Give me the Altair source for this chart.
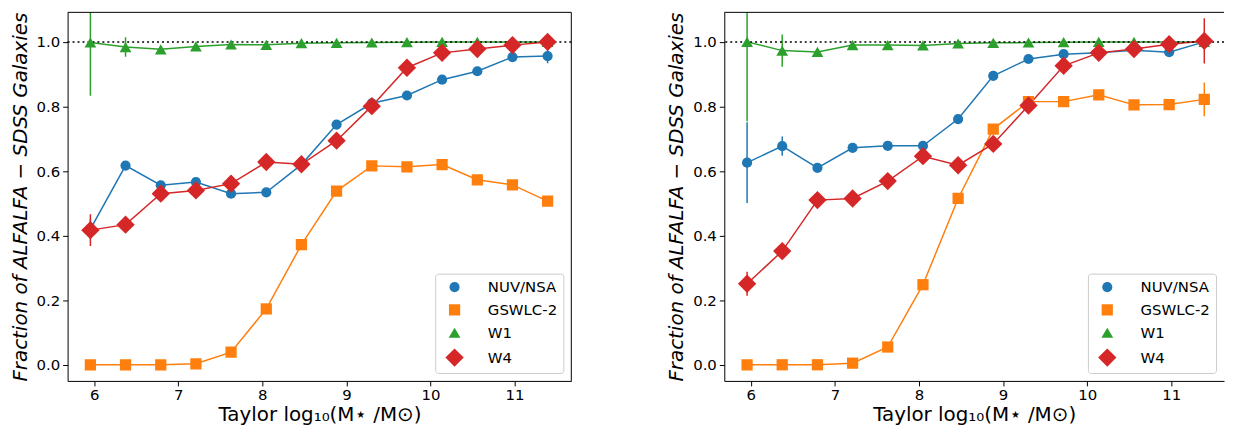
import altair as alt
import pandas as pd

# ---- data ----
xbins = [5.955, 6.373, 6.792, 7.210, 7.628, 8.047, 8.465, 8.883, 9.302, 9.720,
         10.138, 10.557, 10.975, 11.393]
series_names = ["NUV/NSA", "GSWLC-2", "W1", "W4"]

# left panel
L_nuv = [0.420, 0.617, 0.556, 0.566, 0.530, 0.534, 0.620, 0.744, 0.810, 0.834, 0.883, 0.909, 0.953, 0.956]
L_nuv_err = [0.03, 0, 0, 0, 0, 0, 0, 0, 0, 0, 0, 0, 0, 0.022]
L_gsw = [0.0, 0.0, 0.0, 0.003, 0.039, 0.173, 0.372, 0.538, 0.616, 0.613, 0.620, 0.573, 0.557, 0.507]
L_gsw_err = [0] * 14
L_w1 = [0.998, 0.984, 0.977, 0.986, 0.992, 0.991, 0.996, 0.997, 0.998, 0.999, 1.0, 1.0, 1.0, 1.0]
L_w1_err = [0.165, 0.03, 0, 0, 0, 0, 0, 0, 0, 0, 0, 0, 0, 0]
L_w4 = [0.417, 0.434, 0.530, 0.540, 0.561, 0.628, 0.621, 0.694, 0.801, 0.920, 0.966, 0.978, 0.990, 1.000]
L_w4_err = [0.049, 0, 0, 0, 0, 0, 0, 0, 0, 0, 0, 0, 0, 0]

# right panel
R_nuv = [0.626, 0.677, 0.610, 0.672, 0.678, 0.678, 0.761, 0.895, 0.947, 0.962, 0.966, 0.974, 0.968, 1.000]
R_nuv_err = [0.125, 0.03, 0, 0, 0, 0, 0, 0, 0, 0, 0, 0, 0, 0]
R_gsw = [0.0, 0.0, 0.0, 0.005, 0.055, 0.248, 0.515, 0.730, 0.815, 0.815, 0.836, 0.805, 0.806, 0.822]
R_gsw_err = [0, 0, 0, 0, 0, 0, 0, 0, 0, 0, 0, 0, 0, 0.052]
R_w1 = [1.0, 0.973, 0.969, 0.990, 0.990, 0.989, 0.995, 0.997, 0.998, 0.999, 1.0, 1.0, 1.0, 1.0]
R_w1_err = [0.246, 0.05, 0, 0, 0, 0, 0, 0, 0, 0, 0, 0, 0, 0]
R_w4 = [0.251, 0.352, 0.510, 0.515, 0.569, 0.646, 0.618, 0.684, 0.803, 0.926, 0.966, 0.978, 0.993, 1.003]
R_w4_err = [0.037, 0, 0, 0, 0, 0, 0, 0, 0, 0, 0, 0, 0, 0.07]

x_ticks = [6, 7, 8, 9, 10, 11]
y_ticks = [0.0, 0.2, 0.4, 0.6, 0.8, 1.0]
reference_level = [1.0]

# ---- styling ----
colors = ["#1f77b4", "#ff7f0e", "#2ca02c", "#d62728"]
shapes = ["circle", "square", "triangle-up", "diamond"]
marker_area = {"NUV/NSA": 105, "GSWLC-2": 128, "W1": 140, "W4": 340}

FONT = "DejaVu Sans"
H = 371
W_LEFT = 507
W_RIGHT = 503
Y_DOM = [-0.05, 1.0915]
X_PX = 84.63  # pixels per unit

legend_size_expr = ("datum.value == 'W4' ? 340 : datum.value == 'W1' ? 140 : "
                    "datum.value == 'GSWLC-2' ? 128 : 105")


def make_df(vals, errs):
    rows = []
    for name, v, e in zip(series_names, vals, errs):
        for x, y, err in zip(xbins, v, e):
            rows.append({"series": name, "x": x, "y": y, "err": err,
                         "lo": y - err, "hi": y + err,
                         "msize": marker_area[name]})
    return pd.DataFrame(rows)


def panel(vals, errs, width, right_spine):
    df = make_df(vals, errs)
    xdom = [5.684, 5.684 + width / X_PX]
    yscale = alt.Scale(domain=Y_DOM, nice=False, zero=False)
    xs = alt.X("x:Q", scale=alt.Scale(domain=xdom, nice=False, zero=False),
               axis=alt.Axis(values=x_ticks, format="d",
                             title="Taylor log₁₀(M⋆ /M⊙)", titlePadding=2,
                             labelPadding=2))
    ys = alt.Y("y:Q", scale=yscale,
               axis=alt.Axis(values=y_ticks, format=".1f",
                             title="Fraction of ALFALFA − SDSS Galaxies",
                             titleFontStyle="italic", titlePadding=6))
    legend = alt.Legend(title=None, orient="bottom-right", offset=8,
                        strokeColor="#cccccc", fillColor="white", cornerRadius=3,
                        padding=6, labelFont=FONT, labelFontSize=15,
                        labelColor="black", labelOffset=26, rowPadding=7,
                        symbolOffset=6, symbolSize={"expr": legend_size_expr},
                        symbolStrokeWidth=0, symbolOpacity=1)
    color = alt.Color("series:N", scale=alt.Scale(domain=series_names, range=colors),
                      legend=legend)
    shape = alt.Shape("series:N", scale=alt.Scale(domain=series_names, range=shapes),
                      legend=legend)

    base = alt.Chart(df)
    err = base.transform_filter("datum.err > 0").mark_rule(
        clip=True, strokeWidth=1.5).encode(
        x=xs, y=alt.Y("lo:Q", scale=yscale), y2="hi:Q", color=color)
    line = base.mark_line(strokeWidth=1.5, clip=True).encode(
        x=xs, y=ys, color=color, order="x:Q")
    dotted = alt.Chart(pd.DataFrame({"v": reference_level})).mark_rule(
        color="black", strokeDash=[2, 3], strokeWidth=1.5).encode(
        y=alt.Y("v:Q", scale=yscale))
    pts = base.mark_point(filled=True, opacity=1, clip=True).encode(
        x=xs, y=ys, color=color, shape=shape,
        size=alt.Size("msize:Q", scale=None, legend=None))

    one = pd.DataFrame({"k": [0]})
    top = alt.Chart(one).mark_rule(color="black", strokeWidth=1).encode(
        x=alt.value(0), x2=alt.value(width), y=alt.value(0))
    layers = [err, line, dotted, pts, top]
    if right_spine:
        rs = alt.Chart(one).mark_rule(color="black", strokeWidth=1).encode(
            x=alt.value(width), y=alt.value(0), y2=alt.value(H))
        layers.append(rs)
    return alt.layer(*layers).properties(width=width, height=H)


left = panel([L_nuv, L_gsw, L_w1, L_w4], [L_nuv_err, L_gsw_err, L_w1_err, L_w4_err],
             W_LEFT, True)
right = panel([R_nuv, R_gsw, R_w1, R_w4], [R_nuv_err, R_gsw_err, R_w1_err, R_w4_err],
              W_RIGHT, False)

chart = alt.hconcat(left, right, spacing=95).resolve_scale(
    color="independent", shape="independent"
).properties(
    padding={"left": 2, "top": 2, "right": 0, "bottom": 0}
).configure_view(stroke=None).configure_axis(
    labelFont=FONT, labelFontSize=15, labelColor="black",
    titleFont=FONT, titleFontSize=20, titleColor="black", titleFontWeight="normal",
    grid=False, tickColor="black", domainColor="black", tickSize=5,
    labelPadding=3, domainWidth=1, tickWidth=1
)

chart.save("out.html", embed_options={"renderer": "svg", "actions": False})
